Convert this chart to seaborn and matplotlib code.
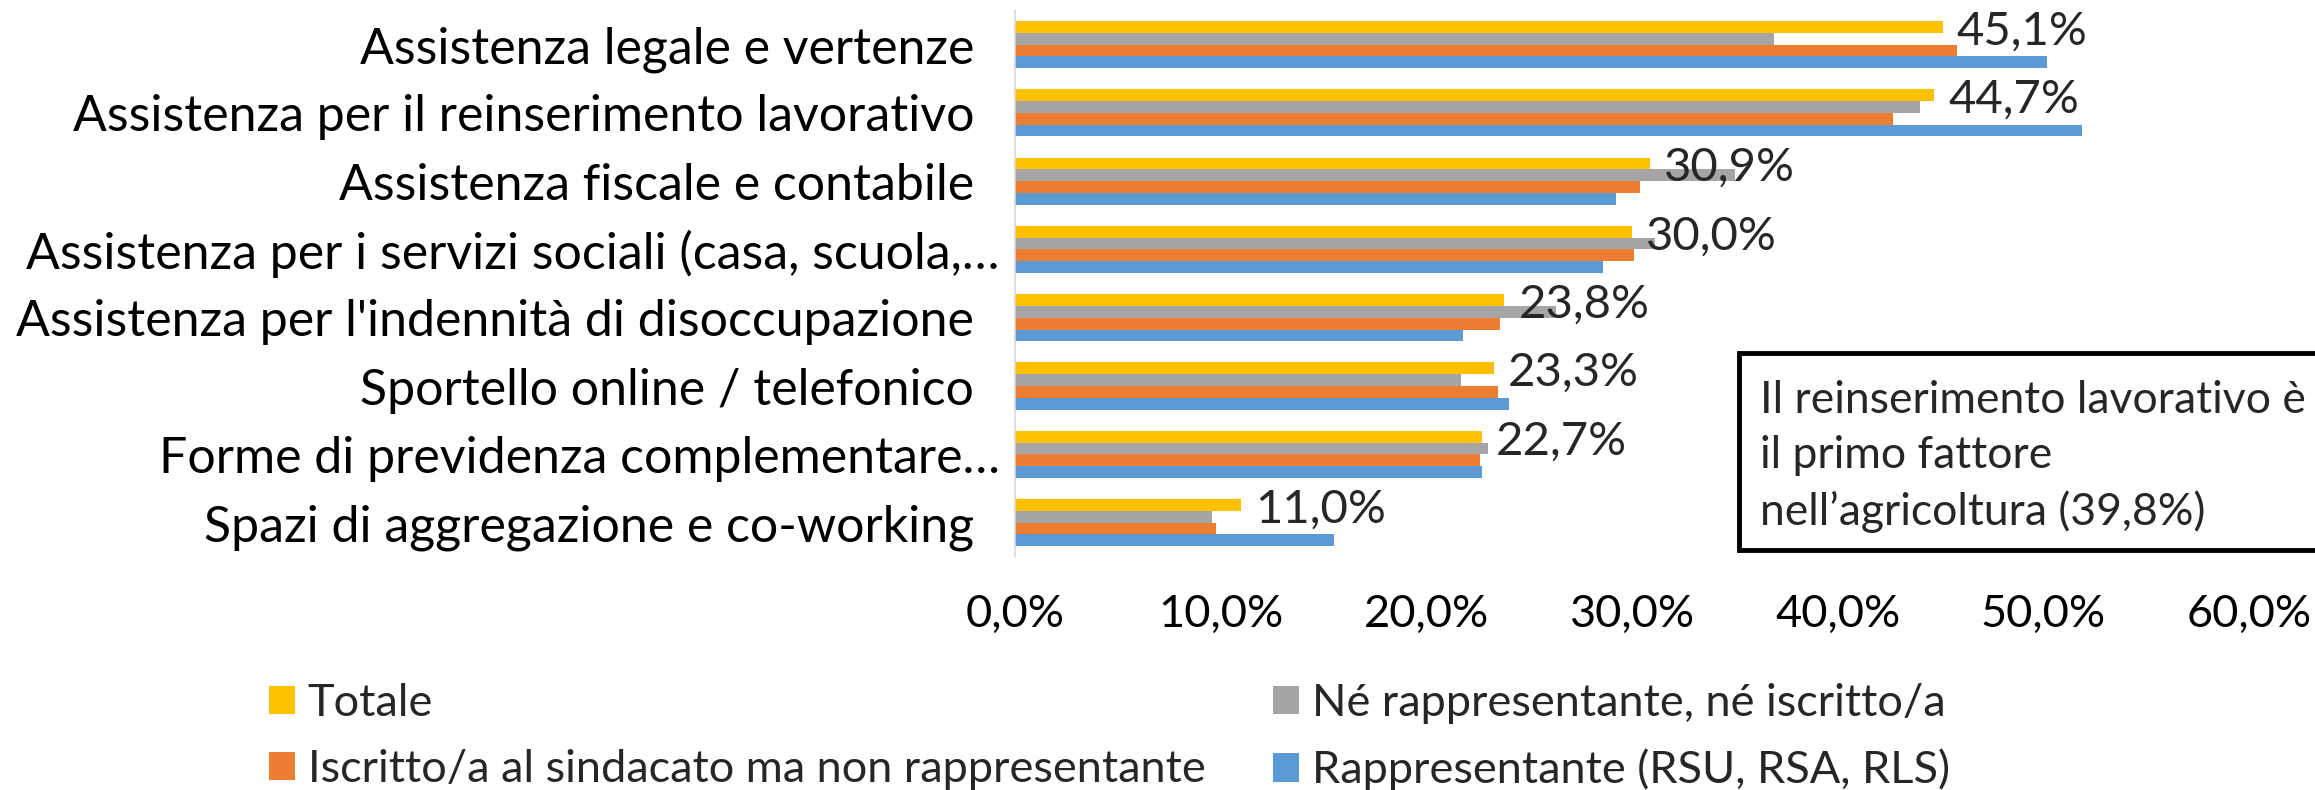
import pandas as pd
import matplotlib.pyplot as plt
import seaborn as sns
from matplotlib.patches import Patch, Rectangle
from matplotlib.ticker import FuncFormatter

categorie = [
    "Assistenza legale e vertenze",
    "Assistenza per il reinserimento lavorativo",
    "Assistenza fiscale e contabile",
    "Assistenza per i servizi sociali (casa, scuola,…",
    "Assistenza per l'indennità di disoccupazione",
    "Sportello online / telefonico",
    "Forme di previdenza complementare…",
    "Spazi di aggregazione e co-working",
]
gruppi = [
    "Totale",
    "Né rappresentante, né iscritto/a",
    "Iscritto/a al sindacato ma non rappresentante",
    "Rappresentante (RSU, RSA, RLS)",
]
totale = [45.1, 44.7, 30.9, 30.0, 23.8, 23.3, 22.7, 11.0]
ne_rappr = [36.9, 44.0, 35.0, 31.1, 26.3, 21.7, 23.0, 9.6]
iscritto = [45.8, 42.7, 30.4, 30.1, 23.6, 23.5, 22.6, 9.8]
rappresentante = [50.2, 51.9, 29.2, 28.6, 21.8, 24.0, 22.7, 15.5]
colori = ["#FFC000", "#A5A5A5", "#ED7D31", "#5B9BD5"]
nota = "Il reinserimento lavorativo è\nil primo fattore\nnell’agricoltura (39,8%)"

righe = []
for g, vals in zip(gruppi, [totale, ne_rappr, iscritto, rappresentante]):
    for c, v in zip(categorie, vals):
        righe.append({"categoria": c, "gruppo": g, "valore": v})
df = pd.DataFrame(righe)

sns.set_theme(style="white")
plt.rcParams['font.family'] = ['Lato', 'DejaVu Sans']

fig = plt.figure(figsize=(23.15, 7.9), dpi=100)
ax = fig.add_axes([0.4384, 0.2952, 0.9715 - 0.4384, 0.9869 - 0.2952])

sns.barplot(data=df, y="categoria", x="valore", hue="gruppo", order=categorie,
            hue_order=gruppi, palette=colori, orient="h", width=0.69,
            saturation=1, errorbar=None, legend=False, linewidth=0, ax=ax)

ax.set_xlim(0, 60)
ax.set_ylim(len(categorie) - 0.5, -0.5)
ax.set_xticks(range(0, 61, 10))
ax.xaxis.set_major_formatter(FuncFormatter(lambda v, p: f"{v:.1f}%".replace(".", ",")))
ax.set_yticks(range(len(categorie)))
ax.set_yticklabels([c if c.endswith("…") else c + "  " for c in categorie])
ax.tick_params(axis="x", length=0, pad=27, labelsize=32.5, colors="black")
ax.tick_params(axis="y", length=0, pad=11, labelsize=36, colors="black")
ax.set_xlabel("")
ax.set_ylabel("")
for s in ["top", "right", "bottom"]:
    ax.spines[s].set_visible(False)
ax.spines["left"].set_color("#D9D9D9")
ax.spines["left"].set_linewidth(1.2)

# etichette sui valori totali
for i, v in enumerate(totale):
    ax.annotate(f"{v:.1f}%".replace(".", ","), (v, i - 0.19), xytext=(10, 0),
                textcoords="offset points", va="center", ha="left", fontsize=34)

# legenda in due colonne
h = [Patch(facecolor=c, edgecolor="none") for c in colori]
kw = dict(loc="upper left", frameon=False, fontsize=32.5, handlelength=0.58,
          handleheight=0.58, handletextpad=0.28, labelspacing=0.55,
          borderpad=0, borderaxespad=0)
fig.legend([h[0], h[2]], [gruppi[0], gruppi[2]], bbox_to_anchor=(269 / 2315, 0.1355), **kw)
fig.legend([h[1], h[3]], [gruppi[1], gruppi[3]], bbox_to_anchor=(1273 / 2315, 0.1355), **kw)

# riquadro di nota
fig.patches.append(Rectangle((0.7512, 0.3038), 0.5, 0.2494, transform=fig.transFigure,
                             facecolor="white", edgecolor="black", linewidth=3.5, zorder=5))
fig.text(1760 / 2315, 0.422, nota, fontsize=32, va="center", ha="left",
         linespacing=1.42, zorder=6)

plt.savefig("out.png", dpi=100)
